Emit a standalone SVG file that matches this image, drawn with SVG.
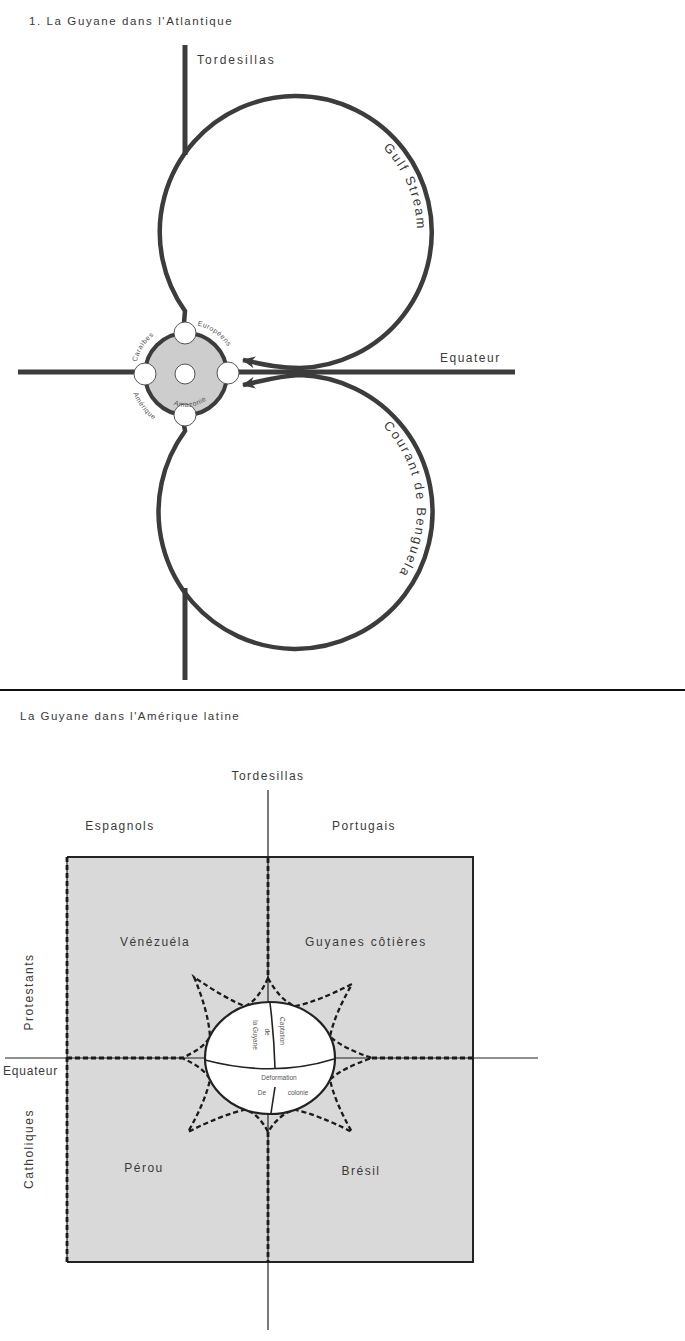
<svg xmlns="http://www.w3.org/2000/svg" width="685" height="1341" viewBox="0 0 685 1341">
<style>
text{font-family:"Liberation Sans",Arial,sans-serif;fill:#3a3a3a}
.lbl{font-size:12px;letter-spacing:2px}
.small{font-size:7px;fill:#555;letter-spacing:0.5px}
.tiny{font-size:6.5px;fill:#555}
.thick{fill:none;stroke:#3c3c3c;stroke-width:5}
.thin{fill:none;stroke:#222;stroke-width:1.2}
.edge{fill:none;stroke:#222;stroke-width:2}
.dash{fill:none;stroke:#1a1a1a;stroke-width:2.8;stroke-dasharray:5 3}
.inner{fill:none;stroke:#222;stroke-width:1.6}
</style>
<defs>
<marker id="arr" markerUnits="userSpaceOnUse" markerWidth="16" markerHeight="14" refX="13" refY="7" orient="auto">
<path d="M1,1 L14,7 L1,13 L5,7 z" fill="#3c3c3c"/>
</marker>
<path id="tpGulf" d="M383,148 A121,121 0 0 1 388.7,309.8"/>
<path id="tpBeng" d="M383,426 A121,121 0 0 1 373.8,602.7"/>
<path id="tpUL" d="M136.5,362 A50,50 0 0 1 164.9,328.7"/>
<path id="tpUR" d="M197.2,325.3 A50,50 0 0 1 229.3,349"/>
<path id="tpLL" d="M133.4,393.2 A56,56 0 0 0 176.3,429.2"/>
<path id="tpIN" d="M173.6,404.6 A33,33 0 0 0 217,385.3"/>
</defs>

<g id="title1"><text x="29" y="25" class="lbl" style="font-size:11.5px;letter-spacing:1.6px">1. La Guyane dans l'Atlantique</text></g>

<g id="connectors">
<!-- upper diagram -->
<line class="thick" x1="185" y1="45" x2="185" y2="155"/>
<line class="thick" x1="185" y1="588" x2="185" y2="680"/>
<line class="thick" x1="18" y1="372" x2="515" y2="372"/>
<path class="thick" d="M184,323 L185,311 A136,136 0 1 1 300,368 C278,368 262,364 243,360" marker-end="url(#arr)" style="stroke-width:4.5"/>
<path class="thick" d="M184,425 L185,431 A137,137 0 1 0 300,375 C278,376 262,381 243,385" marker-end="url(#arr)" style="stroke-width:4.5"/>
<!-- separator -->
<line x1="0" y1="690" x2="685" y2="690" stroke="#111" stroke-width="2"/>
</g>

<g id="upper-labels">
<text x="197" y="64" class="lbl">Tordesillas</text>
<text x="440" y="362" class="lbl" style="letter-spacing:1.5px">Equateur</text>
<text style="font-size:13px;letter-spacing:2px"><textPath href="#tpGulf">Gulf Stream</textPath></text>
<text style="font-size:13px;letter-spacing:2px"><textPath href="#tpBeng">Courant de Benguela</textPath></text>
</g>

<g id="guyane-node">
<circle cx="186" cy="374" r="41" fill="#cdcdcd" stroke="#3c3c3c" stroke-width="4"/>
<circle cx="185" cy="333" r="11" fill="#fff" stroke="#555" stroke-width="1"/>
<circle cx="185" cy="415" r="11" fill="#fff" stroke="#555" stroke-width="1"/>
<circle cx="145" cy="374" r="11" fill="#fff" stroke="#555" stroke-width="1"/>
<circle cx="228" cy="373" r="11" fill="#fff" stroke="#555" stroke-width="1"/>
<circle cx="185" cy="374" r="10" fill="#fff" stroke="#555" stroke-width="1"/>
<text class="small"><textPath href="#tpUL">Caraïbes</textPath></text>
<text class="small"><textPath href="#tpUR">Européens</textPath></text>
<text class="small"><textPath href="#tpLL">Amérique</textPath></text>
<text class="small"><textPath href="#tpIN">Amazonie</textPath></text>
</g>

<g id="title2"><text x="20" y="720" class="lbl" style="font-size:11.5px;letter-spacing:1.5px">La Guyane dans l'Amérique latine</text></g>

<g id="square">
<rect x="67" y="857" width="406" height="405" fill="#d9d9d9"/>
<path class="edge" d="M67,857 H473 V1262 H67"/>
<line class="thin" x1="67" y1="857" x2="67" y2="1262"/>
</g>

<g id="axes">
<line class="thin" x1="268" y1="790" x2="268" y2="1330"/>
<line class="thin" x1="5" y1="1058" x2="538" y2="1058"/>
<line class="dash" x1="67" y1="857" x2="67" y2="1262"/>
<line class="dash" x1="268" y1="858" x2="268" y2="978"/>
<line class="dash" x1="268" y1="1132" x2="268" y2="1262"/>
<line class="dash" x1="67" y1="1058" x2="182" y2="1058"/>
<line class="dash" x1="372" y1="1058" x2="473" y2="1058"/>
</g>

<g id="star">
<path class="dash" style="stroke-width:2.3" d="M268,978 Q280.1,1000.1 294.9,1006.3 Q318.3,1001.3 352,984 Q334.4,1014.8 330,1036.6 Q343.1,1048.3 372,1058 Q343.1,1067.7 330,1079.4 Q334.4,1101.2 352,1132 Q318.3,1114.8 294.9,1109.7 Q280.1,1113 268,1132 Q258.3,1113.1 245.1,1109.7 Q221.8,1114.8 188,1132 Q205.6,1101.2 210,1079.4 Q203.9,1067.6 182,1058 Q203.9,1048.4 210,1036.6 Q208.4,1011.6 194,977 Q224.4,998.1 245.1,1006.3 Q258.2,1000 268,978 Z"/>
</g>

<g id="guyane-core">
<ellipse cx="270" cy="1058" rx="65" ry="56" fill="#fff" stroke="#222" stroke-width="2.2"/>
<path class="inner" d="M205,1060 Q273,1078 334,1059"/>
<path class="inner" d="M270,1003 Q274,1035 275,1068"/>
<path class="inner" d="M275,1087 L271,1113"/>
<text class="tiny" transform="translate(280,1031) rotate(90)" text-anchor="middle">Captation</text>
<text class="tiny" transform="translate(265,1032) rotate(90)" text-anchor="middle">de</text>
<text class="tiny" transform="translate(253,1035) rotate(90)" text-anchor="middle">la Guyane</text>
<text class="tiny" x="279" y="1080" text-anchor="middle">Déformation</text>
<text class="tiny" x="262" y="1095" text-anchor="middle">De</text>
<text class="tiny" x="298" y="1095" text-anchor="middle">colonie</text>
</g>

<g id="lower-labels">
<text x="268" y="780" class="lbl" text-anchor="middle" style="letter-spacing:1.5px">Tordesillas</text>
<text x="120" y="830" class="lbl" text-anchor="middle" style="letter-spacing:1.5px">Espagnols</text>
<text x="364" y="830" class="lbl" text-anchor="middle" style="letter-spacing:1.5px">Portugais</text>
<text x="155" y="946" class="lbl" text-anchor="middle" style="letter-spacing:1.5px">Vénézuéla</text>
<text x="366" y="946" class="lbl" text-anchor="middle" style="letter-spacing:1.8px">Guyanes côtières</text>
<text x="144" y="1172" class="lbl" text-anchor="middle" style="letter-spacing:1.5px">Pérou</text>
<text x="361" y="1175" class="lbl" text-anchor="middle" style="letter-spacing:1.5px">Brésil</text>
<text x="3" y="1075" class="lbl" style="letter-spacing:0.8px">Equateur</text>
<text class="lbl" transform="translate(33,992) rotate(-90)" text-anchor="middle" style="letter-spacing:1.5px">Protestants</text>
<text class="lbl" transform="translate(33,1149) rotate(-90)" text-anchor="middle" style="letter-spacing:1.5px">Catholiques</text>
</g>
</svg>
